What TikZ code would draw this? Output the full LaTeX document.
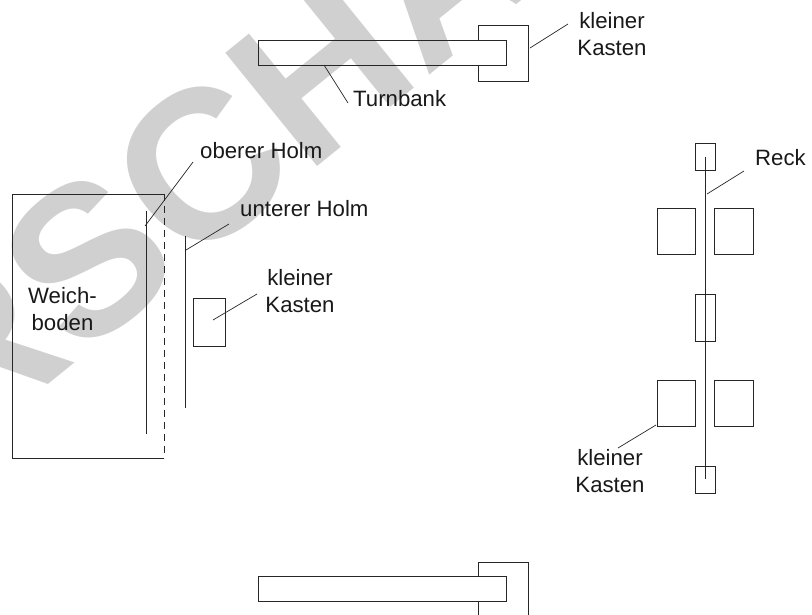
\documentclass[tikz,border=0pt]{standalone}
\usepackage{fontspec}
\setmainfont{Liberation Sans}
\begin{document}
\begin{tikzpicture}[x=1pt,y=-1pt,
  line/.style={draw=black!85,line width=0.9pt},
  thin line/.style={draw=black!85,line width=0.7pt},
  lab/.style={inner sep=0pt,text=black!90,font=\fontsize{22.2}{27}\selectfont,align=center},
  labw/.style={lab,anchor=base west},
  mark text/.style={inner sep=0pt,text=black!18.5,font=\fontsize{212}{212}\selectfont\bfseries}]
\useasboundingbox (0,0) rectangle (812,615);
% watermark
\begin{scope}
\clip (0,0) rectangle (812,615);
\node[mark text,rotate=39,anchor=base] (wm) at (252,219.5) {RSCHA};
\end{scope}
% Weichboden
\coordinate (wTL) at (164,194); \coordinate (wBL) at (12,458);
\coordinate (wBR) at (164,458); \coordinate (wTLL) at (12,194);
\draw[line] (wTL) -- (wTLL) -- (wBL) -- (wBR);
\draw[line,dash pattern=on 7pt off 5pt] (wTL) -- (wBR);
\node[lab] (weich) at (62.5,309) {Weich-\\boden};
% Holme
\coordinate (o1) at (146,211); \coordinate (o2) at (146,434);
\coordinate (u1) at (185,236); \coordinate (u2) at (185,408);
\draw[line] (o1) -- (o2);
\draw[line] (u1) -- (u2);
\node[labw] (ober) at (200,159) {oberer Holm};
\node[labw] (unter) at (240,216) {unterer Holm};
\coordinate (oa) at (193,162); \coordinate (ob) at (145,226);
\coordinate (ua) at (229,224); \coordinate (ub) at (186,250);
\draw[thin line] (oa) -- (ob);
\draw[thin line] (ua) -- (ub);
% small box left
\node[draw=black!85,line width=0.9pt,inner sep=0pt,minimum width=32pt,minimum height=48pt] (kb) at (209.5,322) {};
\node[lab] (kl) at (300,291) {kleiner\\Kasten};
\coordinate (ka) at (257,294); \coordinate (kc) at (213,320);
\draw[thin line] (ka) -- (kc);
% top bench
\node[draw=black!85,line width=0.9pt,inner sep=0pt,minimum width=247.5pt,minimum height=24.5pt] (bank) at (382.25,52.75) {};
\coordinate (tb1) at (478.5,40.5); \coordinate (tb2) at (478.5,25.5); \coordinate (tb3) at (528.5,25.5);
\coordinate (tb4) at (528.5,81); \coordinate (tb5) at (478.5,81); \coordinate (tb6) at (478.5,65);
\draw[line] (tb1) -- (tb2) -- (tb3) -- (tb4) -- (tb5) -- (tb6);
\node[lab] (kt) at (612,34) {kleiner\\Kasten};
\coordinate (kta) at (568,24); \coordinate (ktb) at (530,48);
\draw[thin line] (kta) -- (ktb);
\node[labw] (turn) at (353,107) {Turnbank};
\coordinate (ta) at (348,103); \coordinate (tc) at (324,65);
\draw[thin line] (ta) -- (tc);
% bottom bench
\node[draw=black!85,line width=0.9pt,inner sep=0pt,minimum width=247.5pt,minimum height=24.5pt] (bank2) at (382.25,589) {};
\coordinate (bb1) at (478.5,577); \coordinate (bb2) at (478.5,562); \coordinate (bb3) at (528.5,562);
\coordinate (bb4) at (528.5,615); \coordinate (bb5) at (478.5,601); \coordinate (bb6) at (478.5,615);
\draw[line] (bb1) -- (bb2) -- (bb3) -- (bb4);
\draw[line] (bb5) -- (bb6);
% Reck
\tikzset{rbox/.style={draw=black!85,line width=0.9pt,inner sep=0pt}}
\node[rbox,minimum width=20pt,minimum height=27pt] (r1) at (705,157) {};
\node[rbox,minimum width=38.5pt,minimum height=46pt] (r2) at (676.25,231) {};
\node[rbox,minimum width=38.5pt,minimum height=46pt] (r3) at (734,231) {};
\node[rbox,minimum width=20pt,minimum height=47pt] (r4) at (705,317.5) {};
\node[rbox,minimum width=38.5pt,minimum height=46pt] (r5) at (676.25,403) {};
\node[rbox,minimum width=38.5pt,minimum height=46pt] (r6) at (734,403) {};
\node[rbox,minimum width=20pt,minimum height=27pt] (r7) at (705,479.5) {};
\coordinate (rt) at (705.5,157); \coordinate (rb) at (705.5,479);
\draw[line] (rt) -- (rb);
\node[labw] (reck) at (755,166) {Reck};
\coordinate (ra) at (744,171); \coordinate (rc) at (707,194);
\draw[thin line] (ra) -- (rc);
\node[lab] (kr) at (610,471) {kleiner\\Kasten};
\coordinate (kra) at (656,425); \coordinate (krb) at (618,448);
\draw[thin line] (kra) -- (krb);
\end{tikzpicture}
\end{document}
